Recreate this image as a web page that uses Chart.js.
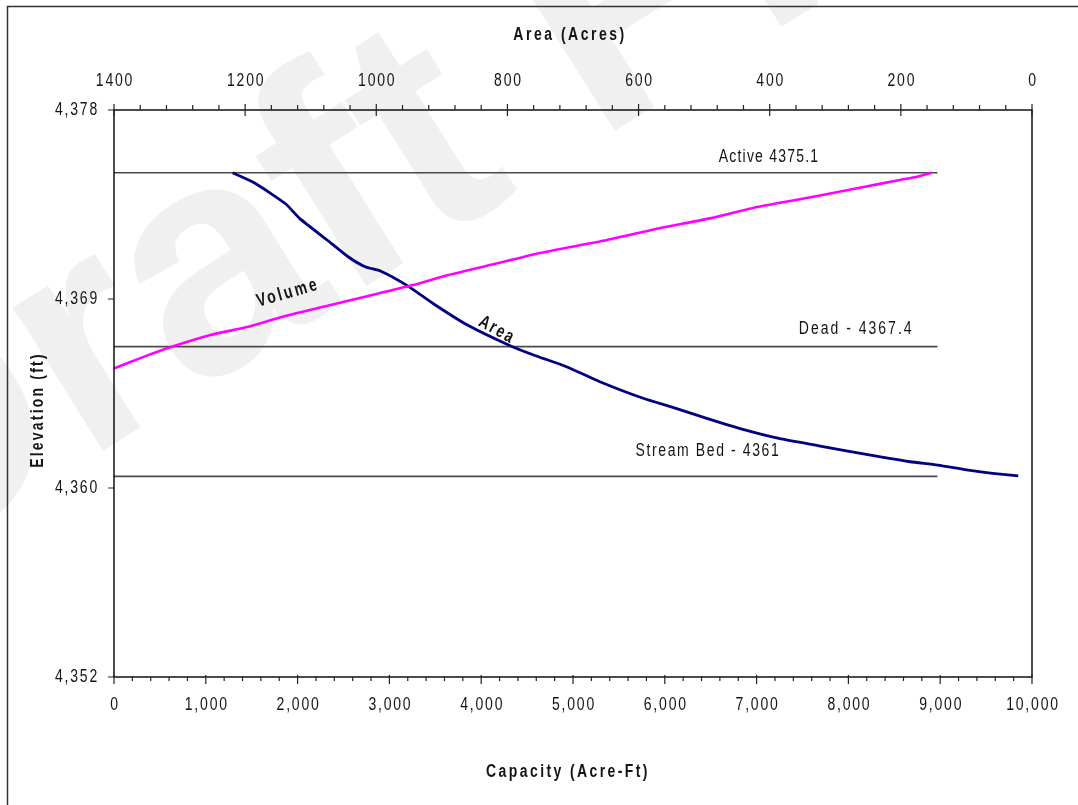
<!DOCTYPE html>
<html>
<head>
<meta charset="utf-8">
<style>
  html, body { margin: 0; padding: 0; background: #fff; }
  canvas { display: block; }
</style>
<script src="https://cdn.jsdelivr.net/npm/chart.js@4.4.1/dist/chart.umd.min.js"></script>
</head>
<body>
<canvas id="capChart" width="1078" height="805"></canvas>
<script>
/* Elevation - Area - Capacity curves */

// Volume curve: capacity (acre-ft) vs elevation (ft)
var volCapacity = [0, 330, 630, 1050, 1460, 1830, 2360, 2880, 3260, 3640, 4190, 4640, 5370, 5930, 6490, 7020, 7620, 8180, 8560, 8750, 8910];
var volElevation = [4366.15, 4366.69, 4367.14, 4367.68, 4368.06, 4368.51, 4369.06, 4369.59, 4369.97, 4370.43, 4370.98, 4371.44, 4372.04, 4372.57, 4373.03, 4373.56, 4374.02, 4374.48, 4374.79, 4374.94, 4375.12];

// Area curve: surface area (acres) vs elevation (ft)
var areaAcres = [1219, 1185, 1138, 1117, 1075, 1043, 1017, 993, 954, 910, 861, 795, 756, 710, 659, 593, 543, 496, 438, 386, 323, 281, 233, 186, 144, 97, 60, 21];
var areaElevation = [4375.12, 4374.64, 4373.69, 4373.03, 4372.04, 4371.27, 4370.81, 4370.61, 4369.97, 4369.06, 4368.14, 4367.18, 4366.72, 4366.23, 4365.54, 4364.78, 4364.32, 4363.86, 4363.33, 4362.94, 4362.59, 4362.36, 4362.10, 4361.87, 4361.72, 4361.49, 4361.34, 4361.22];

// Pool levels
var poolNames = ['Active 4375.1', 'Dead - 4367.4', 'Stream Bed - 4361'];
var poolElevation = [4375.12, 4367.15, 4361.2];
var poolCapacityRange = [0, 8970];

// Axes
var yTickValues = [4352, 4352 + 26 / 3, 4352 + 52 / 3, 4378];
var capacityTicks = [0, 1000, 2000, 3000, 4000, 5000, 6000, 7000, 8000, 9000, 10000];
var areaTicks = [1400, 1200, 1000, 800, 600, 400, 200, 0];

var FONT = '"Liberation Sans", Arial, Helvetica, sans-serif';
var STRETCH = 1.32; // glyphs in the source are taller than wide

function pts(xs, ys) {
  return xs.map(function (x, i) { return { x: x, y: ys[i] }; });
}

var datasets = [
  {
    label: 'Volume', data: pts(volCapacity, volElevation), xAxisID: 'x', yAxisID: 'y',
    borderColor: '#ff00ff', borderWidth: 2.6, pointRadius: 0, tension: 0.2, fill: false
  },
  {
    label: 'Area', data: pts(areaAcres, areaElevation), xAxisID: 'x2', yAxisID: 'y',
    borderColor: '#000080', borderWidth: 2.8, pointRadius: 0, tension: 0.2, fill: false
  }
];
poolElevation.forEach(function (e, i) {
  datasets.push({
    label: poolNames[i],
    data: poolCapacityRange.map(function (c) { return { x: c, y: e }; }),
    xAxisID: 'x', yAxisID: 'y',
    borderColor: '#4a4a4a', borderWidth: 1.6, pointRadius: 0, fill: false
  });
});

function txt(ctx, s, x, y, o) {
  o = o || {};
  ctx.save();
  ctx.font = (o.bold ? 'bold ' : '') + (o.size || 14) + 'px ' + FONT;
  ctx.letterSpacing = (o.ls || 0) + 'px';
  ctx.fillStyle = o.color || '#141414';
  ctx.textAlign = o.align || 'center';
  ctx.textBaseline = 'middle';
  ctx.translate(x, y);
  if (o.rot) ctx.rotate(o.rot * Math.PI / 180);
  ctx.scale(1, STRETCH);
  ctx.fillText(s, 0, 0);
  ctx.restore();
}

var decor = {
  id: 'decor',
  beforeDraw: function (chart) {
    var ctx = chart.ctx;
    ctx.save();
    ctx.fillStyle = '#fff';
    ctx.fillRect(0, 0, chart.width, chart.height);
    // watermark
    ctx.translate(-112, 585);
    ctx.rotate(-32 * Math.PI / 180);
    ctx.fillStyle = '#f0f0f0';
    ctx.font = 'bold 320px ' + FONT;
    ctx.textBaseline = 'alphabetic';
    ctx.fillText('Draft Final', 0, 0);
    ctx.restore();
    // frame
    ctx.save();
    ctx.strokeStyle = '#333';
    ctx.lineWidth = 1.5;
    ctx.strokeRect(7.5, 6.5, 1300, 1000);
    ctx.restore();
  },
  afterDraw: function (chart) {
    var ctx = chart.ctx, a = chart.chartArea;
    var sx = chart.scales.x, sx2 = chart.scales.x2, sy = chart.scales.y;
    ctx.save();
    ctx.strokeStyle = '#000';
    ctx.lineWidth = 1.4;
    ctx.strokeRect(a.left, a.top, a.right - a.left, a.bottom - a.top);

    ctx.lineWidth = 1.2;
    ctx.strokeStyle = '#222';
    ctx.beginPath();
    var v, p;
    // top axis ticks (area), minor every 40
    for (v = 0; v <= 1400; v += 40) {
      p = sx2.getPixelForValue(v);
      if (v % 200 === 0) { ctx.moveTo(p, a.top - 6); ctx.lineTo(p, a.top + 6); }
      else { ctx.moveTo(p, a.top - 5); ctx.lineTo(p, a.top); }
    }
    // bottom axis ticks (capacity), minor every 200
    for (v = 0; v <= 10000; v += 200) {
      p = sx.getPixelForValue(v);
      if (v % 1000 === 0) { ctx.moveTo(p, a.bottom - 2); ctx.lineTo(p, a.bottom + 7); }
      else { ctx.moveTo(p, a.bottom); ctx.lineTo(p, a.bottom + 4); }
    }
    yTickValues.forEach(function (t) {
      p = sy.getPixelForValue(t);
      ctx.moveTo(a.left - 6, p); ctx.lineTo(a.left, p);
    });
    ctx.stroke();
    ctx.restore();

    // tick labels
    capacityTicks.forEach(function (t) {
      txt(ctx, t.toLocaleString('en-US'), sx.getPixelForValue(t) + 1, a.bottom + 28, { ls: 1.8 });
    });
    areaTicks.forEach(function (t) {
      txt(ctx, String(t), sx2.getPixelForValue(t) + 1, a.top - 29, { ls: 1.8 });
    });
    yTickValues.forEach(function (t) {
      txt(ctx, Math.floor(t + 1e-6).toLocaleString('en-US'), a.left - 15, sy.getPixelForValue(t), { ls: 1.8, align: 'right' });
    });

    // axis titles
    txt(ctx, 'Area (Acres)', 570, 35, { bold: true, ls: 2.5 });
    txt(ctx, 'Capacity (Acre-Ft)', 568, 772, { bold: true, ls: 2.4 });
    txt(ctx, 'Elevation (ft)', 38, 410, { bold: true, ls: 2.2, rot: -90 });

    // pool labels
    txt(ctx, poolNames[0], sx.getPixelForValue(7135), sy.getPixelForValue(poolElevation[0]) - 16, { ls: 1.2 });
    txt(ctx, poolNames[1], sx.getPixelForValue(8085), sy.getPixelForValue(poolElevation[1]) - 18, { ls: 2 });
    txt(ctx, poolNames[2], sx.getPixelForValue(6470), sy.getPixelForValue(poolElevation[2]) - 25, { ls: 1.6 });

    // curve labels
    txt(ctx, 'Volume', 288, 293, { bold: true, ls: 2.5, rot: -16 });
    txt(ctx, 'Area', 497, 330, { bold: true, ls: 2, rot: 29 });
  }
};

new Chart(document.getElementById('capChart'), {
  type: 'line',
  data: { datasets: datasets },
  options: {
    responsive: false,
    animation: false,
    events: [],
    layout: { padding: { left: 0, right: 46, top: 0, bottom: 0 } },
    plugins: { legend: { display: false }, tooltip: { enabled: false } },
    scales: {
      x: {
        type: 'linear', position: 'bottom', min: 0, max: 10000,
        grid: { display: false, drawTicks: false }, border: { display: false },
        ticks: { display: false },
        afterFit: function (s) { s.height = 805 - 677; }
      },
      x2: {
        type: 'linear', position: 'top', reverse: true, min: 0, max: 1400,
        grid: { display: false, drawTicks: false }, border: { display: false },
        ticks: { display: false },
        afterFit: function (s) { s.height = 110; }
      },
      y: {
        type: 'linear', position: 'left', min: 4352, max: 4378,
        grid: { display: false, drawTicks: false }, border: { display: false },
        ticks: { display: false },
        afterFit: function (s) { s.width = 114; }
      }
    }
  },
  plugins: [decor]
});
</script>
</body>
</html>
